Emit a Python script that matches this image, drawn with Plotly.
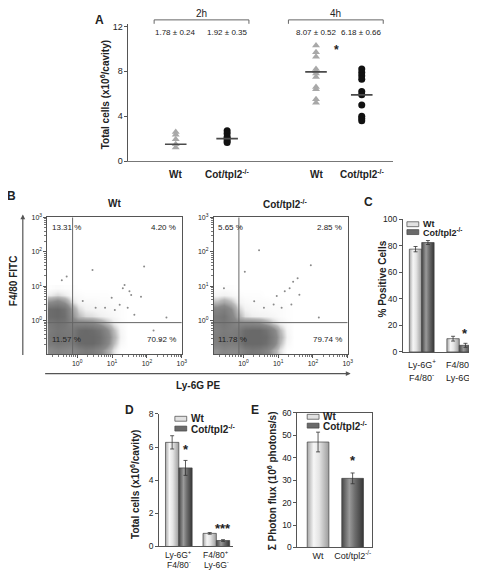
import math
import plotly.graph_objects as go

W, H = 477, 570
FONT = "Liberation Sans, Arial, sans-serif"
TXT = "#222222"

# ---------------- Panel A data ----------------
a_labels = ["Wt", "Cot/tpl2<sup>-/-</sup>", "Wt", "Cot/tpl2<sup>-/-</sup>"]
a_pos = [1.0, 2.0, 3.73, 4.62]
wt_2h = [2.6, 2.35, 1.95, 1.5, 1.2]
cot_2h = [2.7, 2.45, 2.15, 2.0, 1.8, 1.65]
wt_4h = [10.3, 9.7, 9.3, 8.2, 8.0, 7.8, 7.5, 6.6, 6.4, 5.5, 5.2]
cot_4h = [8.2, 7.9, 7.6, 7.3, 6.2, 5.9, 5.0, 4.0, 3.8, 3.6]
a_center = [1.5, 2.0, 7.95, 5.9]
a_means = ["1.78 ± 0.24", "1.92 ± 0.35", "8.07 ± 0.52", "6.18 ± 0.66"]
a_yticks = [0, 4, 8, 12]

# ---------------- Panel B data (log10 units) ----------------
b_xc = [-0.75, -0.55, -0.35, -0.15, 0.05, 0.25, 0.45, 0.65, 0.85, 1.05, 1.25, 1.45]
b_yc = [-0.87, -0.67, -0.47, -0.27, -0.07, 0.13, 0.33, 0.53, 0.73, 0.93]
wt_density = [
    [0.45, 0.55, 0.50, 0.45, 0.60, 0.70, 0.65, 0.50, 0.30, 0.10, 0.00, 0],
    [0.70, 0.80, 0.75, 0.70, 0.95, 1.00, 1.00, 0.85, 0.55, 0.20, 0.03, 0],
    [0.75, 0.85, 0.80, 0.75, 1.00, 1.00, 1.00, 0.90, 0.60, 0.25, 0.05, 0],
    [0.70, 0.80, 0.75, 0.70, 0.95, 1.00, 0.95, 0.80, 0.50, 0.20, 0.04, 0],
    [0.75, 0.85, 0.80, 0.60, 0.55, 0.55, 0.50, 0.35, 0.20, 0.08, 0.02, 0],
    [0.95, 1.00, 0.90, 0.45, 0.20, 0.12, 0.10, 0.07, 0.05, 0.03, 0.01, 0],
    [0.95, 1.00, 0.85, 0.35, 0.12, 0.06, 0.05, 0.04, 0.03, 0.02, 0.01, 0],
    [0.45, 0.55, 0.40, 0.12, 0.04, 0.03, 0.03, 0.02, 0.02, 0.01, 0.01, 0],
    [0.08, 0.12, 0.08, 0.03, 0.02, 0.01, 0.01, 0.01, 0.01, 0, 0, 0],
    [0.01, 0.02, 0.01, 0.01, 0, 0, 0, 0, 0, 0, 0, 0],
]
cot_density = [
    [0.40, 0.50, 0.45, 0.45, 0.65, 0.75, 0.70, 0.55, 0.30, 0.10, 0.00, 0],
    [0.60, 0.70, 0.65, 0.70, 1.00, 1.00, 1.00, 0.90, 0.60, 0.20, 0.03, 0],
    [0.65, 0.75, 0.70, 0.75, 1.00, 1.00, 1.00, 0.95, 0.65, 0.25, 0.05, 0],
    [0.60, 0.70, 0.65, 0.70, 0.95, 1.00, 1.00, 0.85, 0.55, 0.20, 0.04, 0],
    [0.65, 0.75, 0.65, 0.50, 0.50, 0.50, 0.45, 0.30, 0.15, 0.06, 0.02, 0],
    [0.70, 0.80, 0.55, 0.25, 0.10, 0.07, 0.06, 0.05, 0.04, 0.02, 0.01, 0],
    [0.55, 0.65, 0.45, 0.15, 0.06, 0.04, 0.03, 0.03, 0.02, 0.02, 0.01, 0],
    [0.20, 0.30, 0.20, 0.06, 0.03, 0.02, 0.02, 0.02, 0.01, 0.01, 0, 0],
    [0.04, 0.06, 0.04, 0.02, 0.01, 0.01, 0.01, 0, 0, 0, 0, 0],
    [0.01, 0.01, 0.01, 0, 0, 0, 0, 0, 0, 0, 0, 0],
]
wt_sparse_x = [0.44, 1.92, 1.31, 1.50, 1.83, 0.99, 1.22, -0.30, -0.44, 0.80, 1.45, 1.08, 1.64, 2.56, 0.53, 0.16, 1.55, 1.36, 2.19, 2.38]
wt_sparse_y = [1.47, 1.57, 0.94, 0.85, 0.69, 0.66, 0.46, 1.28, 1.17, 0.37, 0.37, 0.31, 0.17, 0.09, 0.37, 0.57, 0.74, 1.03, -0.29, -0.57]
cot_sparse_x = [0.45, 1.94, 1.56, 1.33, 1.19, 0.96, 0.87, 0.59, 0.04, -0.56, 0.31, 1.38, 1.10, 2.17, 1.61, 1.43]
cot_sparse_y = [2.04, 1.61, 1.23, 0.94, 0.85, 0.71, 0.47, 0.37, 1.42, 0.94, 0.56, 0.47, 0.37, 0.09, 0.75, 1.13]
gate_x, gate_y = -0.13, -0.06
wt_quads = ["13.31 %", "4.20 %", "11.57 %", "70.92 %"]
cot_quads = ["5.65 %", "2.85 %", "11.78 %", "79.74 %"]

# ---------------- Panel C/D/E data ----------------
cd_cats = [["Ly-6G<sup>+</sup>", "F4/80<sup>-</sup>"], ["F4/80<sup>+</sup>", "Ly-6G<sup>-</sup>"]]
c_wt, c_wt_err = [77.5, 10.0], [2.0, 1.8]
c_cot, c_cot_err = [82.5, 5.0], [1.5, 1.5]
d_wt, d_wt_err = [6.28, 0.79], [0.40, 0.05]
d_cot, d_cot_err = [4.74, 0.36], [0.45, 0.05]
e_cats = ["Wt", "Cot/tpl2<sup>-/-</sup>"]
e_vals, e_err = [47.0, 30.8], [4.4, 2.4]

WT_CS = [[0, "#a6a6a6"], [0.3, "#f6f6f6"], [0.55, "#e4e4e4"], [1, "#9c9c9c"]]
COT_CS = [[0, "#474747"], [0.35, "#9a9a9a"], [0.6, "#6e6e6e"], [1, "#363636"]]


def dx(p0, p1):
    return [p0 / W, p1 / W]


def dy(top, bottom):
    return [1 - bottom / H, 1 - top / H]


def px(x):
    return x / W


def py(y):
    return 1 - y / H


fig = go.Figure()
ann = []
shapes = []


def text(t, x, y, size=9, bold=False, angle=0, xa="center", ya="middle", color=TXT, xref="paper"):
    if bold:
        t = "<b>" + t + "</b>"
    ann.append(dict(text=t, x=px(x) if xref == "paper" else x, y=py(y), xref=xref, yref="paper",
                    showarrow=False, font=dict(size=size, family=FONT, color=color),
                    textangle=angle, xanchor=xa, yanchor=ya))


def pline(x0, y0, x1, y1, color="#555", width=1):
    shapes.append(dict(type="line", xref="paper", yref="paper", x0=px(x0), y0=py(y0),
                       x1=px(x1), y1=py(y1), line=dict(color=color, width=width)))


# ---- Panel A traces ----
a_series = [wt_2h, cot_2h, wt_4h, cot_4h]
for i, vals in enumerate(a_series):
    tri = i % 2 == 0
    fig.add_trace(go.Scatter(
        x=[a_pos[i]] * len(vals), y=vals, mode="markers", xaxis="x", yaxis="y",
        marker=dict(symbol="triangle-up" if tri else "circle", size=7,
                    color="#a8a8a8" if tri else "#111111", line=dict(width=0)),
        showlegend=False, hoverinfo="skip"))
    fig.add_trace(go.Scatter(
        x=[a_pos[i] - 0.21, a_pos[i] + 0.21], y=[a_center[i]] * 2, mode="lines",
        line=dict(color="#4a4a4a", width=1.6), xaxis="x", yaxis="y",
        showlegend=False, hoverinfo="skip"))

# ---- Panel B traces ----
B_CS = [[0, "#ffffff"], [0.06, "#f2f2f2"], [0.2, "#b8b8b8"], [0.45, "#8a8a8a"], [1, "#696969"]]
for xa, ya, dens, sx, sy in [("x2", "y2", wt_density, wt_sparse_x, wt_sparse_y),
                              ("x3", "y3", cot_density, cot_sparse_x, cot_sparse_y)]:
    fig.add_trace(go.Heatmap(
        x=b_xc, y=b_yc, z=dens, zmin=0, zmax=1, zsmooth="best", showscale=False,
        colorscale=B_CS, xaxis=xa, yaxis=ya, hoverinfo="skip"))
    fig.add_trace(go.Scatter(
        x=sx, y=sy, mode="markers", marker=dict(size=2, color="#8a8a8a"),
        xaxis=xa, yaxis=ya, showlegend=False, hoverinfo="skip"))


# ---- bar helpers ----
def bars(xa, ya, centers, wt, wt_err, cot, cot_err, w):
    for i, c in enumerate(centers):
        for x0, x1, v, cs in [(c - w, c, wt[i], WT_CS), (c, c + w, cot[i], COT_CS)]:
            fig.add_trace(go.Scatter(
                x=[x0, x0, x1, x1, x0], y=[0, v, v, 0, 0], mode="lines", fill="toself",
                fillgradient=dict(type="horizontal", colorscale=cs),
                line=dict(color="#444444", width=0.7), xaxis=xa, yaxis=ya,
                showlegend=False, hoverinfo="skip"))
    for off, vals, errs in [(-w / 2, wt, wt_err), (w / 2, cot, cot_err)]:
        fig.add_trace(go.Scatter(
            x=[c + off for c in centers], y=vals, mode="markers",
            marker=dict(size=1, color="rgba(0,0,0,0)"),
            error_y=dict(type="data", array=errs, color="#333333", thickness=0.8, width=2),
            xaxis=xa, yaxis=ya, showlegend=False, hoverinfo="skip"))


bars("x4", "y4", [0, 1], c_wt, c_wt_err, c_cot, c_cot_err, 0.33)
bars("x5", "y5", [0, 1], d_wt, d_wt_err, d_cot, d_cot_err, 0.355)

# Panel E single bars
for i, (v, cs) in enumerate(zip(e_vals, [WT_CS, COT_CS])):
    fig.add_trace(go.Scatter(
        x=[i - 0.314, i - 0.314, i + 0.314, i + 0.314, i - 0.314], y=[0, v, v, 0, 0],
        mode="lines", fill="toself", fillgradient=dict(type="horizontal", colorscale=cs),
        line=dict(color="#444444", width=0.7), xaxis="x6", yaxis="y6",
        showlegend=False, hoverinfo="skip"))
fig.add_trace(go.Scatter(
    x=[0, 1], y=e_vals, mode="markers", marker=dict(size=1, color="rgba(0,0,0,0)"),
    error_y=dict(type="data", array=e_err, color="#333333", thickness=0.8, width=2),
    xaxis="x6", yaxis="y6", showlegend=False, hoverinfo="skip"))

# ---------------- axes ----------------
base = dict(showgrid=False, zeroline=False, showline=True, linecolor="#555555", linewidth=1,
            ticks="outside", ticklen=3, tickcolor="#555555",
            tickfont=dict(size=9, family=FONT, color=TXT), fixedrange=True)

minor_vals = [d + math.log10(k) for d in range(-1, 3) for k in range(2, 10)]
logax = dict(base, tickvals=[0, 1, 2, 3],
             ticktext=["10<sup>0</sup>", "10<sup>1</sup>", "10<sup>2</sup>", "10<sup>3</sup>"],
             tickfont=dict(size=7, family=FONT, color=TXT), mirror=True, ticklen=3,
             minor=dict(tickmode="array", tickvals=minor_vals, ticklen=2, tickcolor="#777777", ticks="outside"))

layout = dict(
    width=W, height=H, margin=dict(l=0, r=0, t=0, b=0), paper_bgcolor="white", plot_bgcolor="white",
    showlegend=False, font=dict(family=FONT),
    xaxis=dict(base, domain=dx(122, 390), range=[0.08, 5.23], showticklabels=False, ticks="",
               linecolor="#777777"),
    yaxis=dict(base, domain=dy(11.4, 150.7), range=[0, 12.2], tickvals=a_yticks),
    xaxis2=dict(logax, domain=dx(40, 176), range=[-0.85, 3], anchor="y2"),
    yaxis2=dict(logax, domain=dy(208, 347), range=[-0.97, 3], anchor="x2"),
    xaxis3=dict(logax, domain=dx(208.5, 344), range=[-0.85, 3], anchor="y3"),
    yaxis3=dict(logax, domain=dy(208, 347), range=[-0.97, 3], anchor="x3"),
    xaxis4=dict(base, domain=dx(400, 474), range=[-0.5, 1.447], showticklabels=False,
                ticks="", anchor="y4"),
    yaxis4=dict(base, domain=dy(210, 345), range=[0, 100], tickvals=[0, 20, 40, 60, 80, 100],
                tickfont=dict(size=8.5, family=FONT, color=TXT), anchor="x4"),
    xaxis5=dict(base, domain=dx(153, 228), range=[-0.526, 1.447], showticklabels=False,
                ticks="", anchor="y5"),
    yaxis5=dict(base, domain=dy(408, 543), range=[0, 8], tickvals=[0, 2, 4, 6, 8],
                tickfont=dict(size=8.5, family=FONT, color=TXT), anchor="x5"),
    xaxis6=dict(base, domain=dx(293, 369), range=[-0.6, 1.571], tickvals=[0, 1], ticktext=e_cats,
                ticks="", mirror=True, anchor="y6"),
    yaxis6=dict(base, domain=dy(407, 544), range=[0, 60], tickvals=[0, 10, 20, 30, 40, 50, 60],
                tickfont=dict(size=8.5, family=FONT, color=TXT), mirror=True, anchor="x6"),
)

# ---------------- annotations & shapes ----------------
# Panel A
text("A", 93, 7, size=12, bold=True)
text("Total cells (x10<sup>6</sup>/cavity)", 98, 83, size=10, bold=True, angle=-90)
for (x0, x1, lab) in [(148, 244, "2h"), (284, 380, "4h")]:
    pline(x0, 7, x1, 7, color="#666", width=1)
    pline(x0, 7, x0, 11, color="#666", width=1)
    pline(x1, 7, x1, 11, color="#666", width=1)
    text(lab, (x0 + x1) / 2, 1, size=10)
for i, m in enumerate(a_means):
    ann.append(dict(text=m, x=a_pos[i], y=11.5, xref="x", yref="y", showarrow=False,
                    font=dict(size=8, family=FONT, color=TXT), xanchor="center", yanchor="middle"))
for i, lab in enumerate(a_labels):
    text(lab, a_pos[i], 164, size=10, bold=True, xref="x")
ann.append(dict(text="<b>*</b>", x=(a_pos[2] + a_pos[3]) / 2 - 0.05, y=9.9, xref="x", yref="y",
                showarrow=False, font=dict(size=12, family=FONT, color=TXT)))

# Panel B
text("B", 4, 186, size=12, bold=True)
text("Wt", 108, 194, size=10, bold=True)
text("Cot/tpl2<sup>-/-</sup>", 281, 194, size=10, bold=True)
text("F4/80 FITC", 5, 272, size=10, bold=True, angle=-90)
text("Ly-6G PE", 192, 379, size=10, bold=True)
ann.append(dict(x=px(15), y=py(205), ax=0, ay=142, xref="paper", yref="paper",
                axref="pixel", ayref="pixel", showarrow=True, arrowhead=2, arrowsize=0.8,
                arrowwidth=1.2, arrowcolor="#555", text=""))
ann.append(dict(x=px(347), y=py(367), ax=-307, ay=0, xref="paper", yref="paper",
                axref="pixel", ayref="pixel", showarrow=True, arrowhead=2, arrowsize=0.8,
                arrowwidth=1.2, arrowcolor="#555", text=""))
for xa, ya, quads in [("x2", "y2", wt_quads), ("x3", "y3", cot_quads)]:
    shapes.append(dict(type="line", xref=xa, yref=ya, x0=gate_x, x1=gate_x, y0=-0.97, y1=3,
                       line=dict(color="#666", width=1), layer="above"))
    shapes.append(dict(type="line", xref=xa, yref=ya, x0=-0.85, x1=3, y0=gate_y, y1=gate_y,
                       line=dict(color="#666", width=1), layer="above"))
    for q, (xx, yy, anc) in zip(quads, [(-0.78, 2.7, "left"), (2.9, 2.7, "right"),
                                       (-0.78, -0.55, "left"), (2.9, -0.55, "right")]):
        ann.append(dict(text=q, x=xx, y=yy, xref=xa, yref=ya, showarrow=False, xanchor=anc,
                        font=dict(size=8, family=FONT, color=TXT)))

# Panel C
text("C", 365, 192, size=12, bold=True)
text("% Positive Cells", 379, 271, size=10, bold=True, angle=-90)
ann.append(dict(text="<b>*</b>", x=1.165, y=6.8, xref="x4", yref="y4", showarrow=False,
                yanchor="bottom", font=dict(size=13, family=FONT, color=TXT)))
for i, (l1, l2) in enumerate(cd_cats):
    text(l1, i, 357, size=9, xref="x4")
    text(l2, i, 370, size=9, xref="x4")

# Panel D
text("D", 123, 404, size=12, bold=True)
text("Total cells (x10<sup>6</sup>/cavity)", 128, 480, size=10, bold=True, angle=-90)
ann.append(dict(text="<b>*</b>", x=0.18, y=5.3, xref="x5", yref="y5", showarrow=False,
                yanchor="bottom", font=dict(size=13, family=FONT, color=TXT)))
ann.append(dict(text="<b>***</b>", x=1.18, y=0.5, xref="x5", yref="y5", showarrow=False,
                yanchor="bottom", font=dict(size=13, family=FONT, color=TXT)))
for i, (l1, l2) in enumerate(cd_cats):
    text(l1, i, 551, size=8.5, xref="x5")
    text(l2, i, 561, size=8.5, xref="x5")

# Panel E
text("E", 250, 404, size=12, bold=True)
text("Σ Photon flux (10<sup>6</sup> photons/s)", 267, 476, size=10, bold=True, angle=-90)
ann.append(dict(text="<b>*</b>", x=1, y=34.5, xref="x6", yref="y6", showarrow=False,
                yanchor="bottom", font=dict(size=13, family=FONT, color=TXT)))

# Legends (C, D, E)
for (sx, y1, y2, fs) in [(404, 215, 223, 9), (169, 413, 423, 10), (303, 411, 420, 10)]:
    for yy, fill, lab in [(y1, "#e2e2e2", "Wt"), (y2, "#6a6a6a", "Cot/tpl2<sup>-/-</sup>")]:
        shapes.append(dict(type="rect", xref="paper", yref="paper", x0=px(sx), x1=px(sx + 12),
                           y0=py(yy + 2.5), y1=py(yy - 2.5), fillcolor=fill,
                           line=dict(color="#444", width=0.7)))
        text(lab, sx + 14, yy, size=fs, bold=True, xa="left")

layout["annotations"] = ann
layout["shapes"] = shapes
fig.update_layout(**layout)
fig.write_html("out.html")
